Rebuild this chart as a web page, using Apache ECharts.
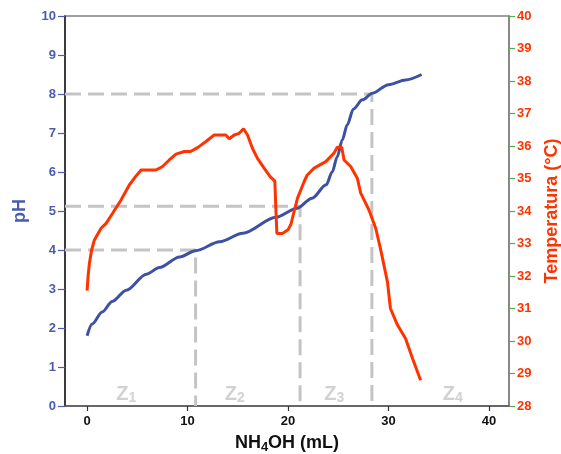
<!DOCTYPE html>
<html>
<head>
<meta charset="utf-8">
<script src="https://cdn.jsdelivr.net/npm/echarts@6/dist/echarts.min.js"></script>
<style>
html,body{margin:0;padding:0;background:#fff;}
#chart{width:561px;height:454px;}
</style>
</head>
<body>
<div id="chart"></div>
<script>
// NH4OH volume (mL) vs pH
const phData = [
  [0, 1.8], [0.5, 2.1], [1.5, 2.41], [2.5, 2.68], [3.9, 2.97], [5.9, 3.38],
  [7.2, 3.55], [9.2, 3.82], [10.8, 3.98], [13.2, 4.21], [15.5, 4.43],
  [18.8, 4.84], [20.9, 5.07], [22.4, 5.33], [23.8, 5.67], [24.4, 6.0],
  [24.9, 6.39], [25.4, 6.82], [25.9, 7.21], [26.5, 7.61], [27.4, 7.85],
  [28.4, 8.02], [30.0, 8.24], [31.7, 8.36], [33.3, 8.5]
];
// NH4OH volume (mL) vs temperature (°C)
const tempData = [
  [0, 31.55], [0.1, 32.0], [0.23, 32.39], [0.45, 32.8], [0.73, 33.11],
  [1.39, 33.47], [1.89, 33.62], [2.54, 33.93], [3.38, 34.34], [4.2, 34.8],
  [4.8, 35.05], [5.37, 35.26], [6.86, 35.26], [7.51, 35.37], [8.18, 35.57],
  [8.85, 35.75], [9.67, 35.83], [10.3, 35.83], [11.0, 35.95], [11.83, 36.14],
  [12.65, 36.34], [13.8, 36.34], [14.15, 36.22], [14.64, 36.34], [15.14, 36.39],
  [15.57, 36.53], [15.97, 36.34], [16.46, 35.93], [16.96, 35.62], [17.62, 35.32],
  [18.22, 35.06], [18.69, 34.92], [18.79, 34.08], [18.89, 33.31], [19.44, 33.31],
  [20.0, 33.42], [20.3, 33.6], [20.6, 33.98], [20.94, 34.39], [21.6, 34.9],
  [21.9, 35.1], [22.6, 35.32], [23.76, 35.52], [24.58, 35.78], [24.9, 35.96],
  [25.35, 35.96], [25.58, 35.57], [26.24, 35.37], [26.9, 35.01], [27.24, 34.55],
  [28.06, 34.03], [28.73, 33.47], [29.2, 32.85], [29.9, 31.82], [30.2, 31.0],
  [30.9, 30.49], [31.7, 30.08], [32.4, 29.46], [33.2, 28.79]
];
// zone boundaries: [volume, pH]
const guideVolumes = [10.8, 21.2, 28.35];
const guidePH = [4.0, 5.12, 8.0];
// zone labels
const zoneNames = ['1', '2', '3', '4'];
const zoneCenters = [3.9, 14.7, 24.6, 36.4];
const zoneLabelPH = 0.3;
const xTicks = [0, 10, 20, 30, 40];
const X_MIN = -2.2, X_MAX = 42;

const FONT = '"Liberation Sans", Arial, sans-serif';
const BLUE = '#3c51a3';
const BLUE_TXT = '#4a5cb0';
const RED = '#ff3300';
const GUIDE = '#c4c4c4';

const guideSeries = guideVolumes.map((v, i) => ({
  type: 'line',
  xAxisIndex: 0, yAxisIndex: 0,
  data: [[X_MIN, guidePH[i]], [v, guidePH[i]], [v, 0]],
  symbol: 'none',
  silent: true,
  z: 1,
  lineStyle: { color: GUIDE, width: 3, type: [16, 7] }
}));

const option = {
  animation: false,
  backgroundColor: '#fff',
  grid: {
    left: 65, right: 52, top: 16, bottom: 48,
    containLabel: false, outerBoundsMode: 'none',
    show: true, borderColor: '#808080', borderWidth: 1.5, backgroundColor: 'transparent'
  },
  xAxis: {
    type: 'value', min: X_MIN, max: X_MAX,
    name: '{a|NH}{s|4}{a|OH (mL)}',
    nameLocation: 'middle', nameGap: 24,
    nameTextStyle: {
      rich: {
        a: { fontFamily: FONT, fontWeight: 'bold', fontSize: 18, color: '#111', lineHeight: 22 },
        s: { fontFamily: FONT, fontWeight: 'bold', fontSize: 13, color: '#111', lineHeight: 13, padding: [8, 0, 0, 0] }
      }
    },
    axisLine: { show: true, onZero: false, lineStyle: { color: '#555', width: 1.5 } },
    axisTick: { show: true, customValues: xTicks, length: 5, lineStyle: { color: '#333', width: 1.2 } },
    axisLabel: { customValues: xTicks, margin: 9, fontFamily: FONT, fontWeight: 'bold', fontSize: 13, color: '#111' },
    splitLine: { show: false }
  },
  yAxis: [
    {
      type: 'value', min: 0, max: 10, interval: 1, position: 'left',
      name: 'pH', nameLocation: 'middle', nameGap: 36, nameRotate: 90,
      nameTextStyle: { fontFamily: FONT, fontWeight: 'bold', fontSize: 18, color: BLUE_TXT },
      axisLine: { show: true, onZero: false, lineStyle: { color: '#1a1a1a', width: 1.5 } },
      axisTick: { show: true, length: 7, lineStyle: { color: BLUE_TXT, width: 1.2 } },
      axisLabel: { margin: 9, fontFamily: FONT, fontWeight: 'bold', fontSize: 13, color: BLUE_TXT },
      splitLine: { show: false }
    },
    {
      type: 'value', min: 28, max: 40, interval: 1, position: 'right',
      name: 'Temperatura (°C)', nameLocation: 'middle', nameGap: 34, nameRotate: 90,
      nameTextStyle: { fontFamily: FONT, fontWeight: 'bold', fontSize: 18, color: RED },
      axisLine: { show: true, onZero: false, lineStyle: { color: '#808080', width: 1.5 } },
      axisTick: { show: true, length: 6, lineStyle: { color: '#4caf50', width: 1.2 } },
      axisLabel: { margin: 8, fontFamily: FONT, fontWeight: 'bold', fontSize: 13, color: RED },
      splitLine: { show: false }
    }
  ],
  series: [
    ...guideSeries,
    {
      type: 'scatter', xAxisIndex: 0, yAxisIndex: 0,
      data: zoneCenters.map(x => [x, zoneLabelPH]),
      symbolSize: 0, silent: true, z: 2,
      label: {
        show: true, position: 'inside',
        formatter: p => '{z|Z}{n|' + zoneNames[p.dataIndex] + '}',
        rich: {
          z: { fontFamily: FONT, fontWeight: 'bold', fontSize: 20, color: '#c6c6c6', lineHeight: 21, verticalAlign: 'bottom' },
          n: { fontFamily: FONT, fontWeight: 'bold', fontSize: 14, color: '#c6c6c6', lineHeight: 16, verticalAlign: 'bottom' }
        }
      }
    },
    {
      type: 'line', name: 'pH', xAxisIndex: 0, yAxisIndex: 0,
      data: phData, symbol: 'none', smooth: 0.3, smoothMonotone: 'x', z: 4,
      lineStyle: { color: BLUE, width: 3 }
    },
    {
      type: 'line', name: 'Temperatura', xAxisIndex: 0, yAxisIndex: 1,
      data: tempData, symbol: 'none', z: 5,
      lineStyle: { color: RED, width: 3 }
    }
  ]
};

const chart = echarts.init(document.getElementById('chart'), null, { renderer: 'canvas' });
chart.setOption(option);
</script>
</body>
</html>
